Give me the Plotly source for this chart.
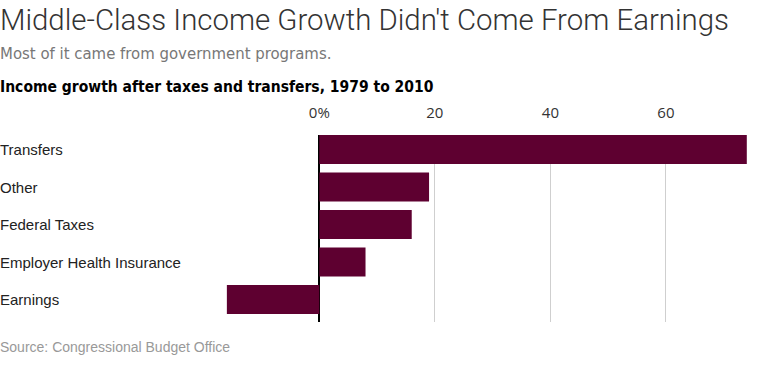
import plotly.graph_objects as go

categories = ["Transfers", "Other", "Federal Taxes", "Employer Health Insurance", "Earnings"]
values = [74, 19, 16, 8, -16]
tick_vals = [0, 20, 40, 60]
tick_text = ["0%", "20", "40", "60"]

title = "Middle-Class Income Growth Didn't Come From Earnings"
subtitle = "Most of it came from government programs."
chart_title = "Income growth after taxes and transfers, 1979 to 2010"
source = "Source: Congressional Budget Office"

W, H = 769, 367
TOP, BOTTOM = 135, 322  # plot area in pixels

def py(p):
    return (BOTTOM - p) / (BOTTOM - TOP)

fig = go.Figure()
fig.add_trace(go.Bar(
    y=categories, x=values, orientation="h",
    marker=dict(color="#5e0030", line=dict(width=0)),
    hoverinfo="skip",
))

ppu = 5.777
zero_px = 319.3
xr = [-zero_px / ppu, (W - zero_px) / ppu]

fig.update_layout(
    width=W, height=H,
    margin=dict(l=0, r=0, t=TOP, b=H - BOTTOM, pad=0),
    paper_bgcolor="white", plot_bgcolor="white",
    showlegend=False,
    bargap=0.227,
    xaxis=dict(
        range=xr, side="top", tickvals=tick_vals, ticktext=tick_text,
        showgrid=True, gridcolor="#cfcfcf", gridwidth=1,
        zeroline=True, zerolinecolor="#000000", zerolinewidth=1.5,
        ticks="outside", ticklen=10, tickcolor="rgba(0,0,0,0)",
        tickfont=dict(family="Open Sans", size=15, color="#333"),
        showline=False, fixedrange=True,
    ),
    yaxis=dict(
        categoryorder="array", categoryarray=categories[::-1],
        range=[-0.6, 4.387],
        showticklabels=False, showgrid=False, zeroline=False, showline=False,
        fixedrange=True,
    ),
    font=dict(family="Liberation Sans", color="#222"),
)

ann = []
for c in categories:
    ann.append(dict(x=0, xref="paper", y=c, yref="y", text=c, showarrow=False,
                    xanchor="left", yanchor="middle", xshift=-2,
                    font=dict(family="Liberation Sans", size=15, color="#222")))

ann.append(dict(x=0, xref="paper", y=py(20), yref="paper", text=title, showarrow=False,
                xanchor="left", yanchor="middle", xshift=-2,
                font=dict(family="Roboto", size=29.4, color="#333", weight=300)))
ann.append(dict(x=0, xref="paper", y=py(53), yref="paper", text=subtitle, showarrow=False,
                xanchor="left", yanchor="middle", xshift=-2,
                font=dict(family="DejaVu Sans Condensed", size=16.6, color="#777")))
ann.append(dict(x=0, xref="paper", y=py(87), yref="paper", text="<b>" + chart_title + "</b>", showarrow=False,
                xanchor="left", yanchor="middle", xshift=-2,
                font=dict(family="DejaVu Sans Condensed", size=15.5, color="#000")))
ann.append(dict(x=0, xref="paper", y=py(347), yref="paper", text=source, showarrow=False,
                xanchor="left", yanchor="middle", xshift=-2,
                font=dict(family="Liberation Sans", size=14, color="#999")))

fig.update_layout(annotations=ann)
fig.write_html("out.html", config={"displayModeBar": False},
               post_script="document.body.style.margin='0';")
